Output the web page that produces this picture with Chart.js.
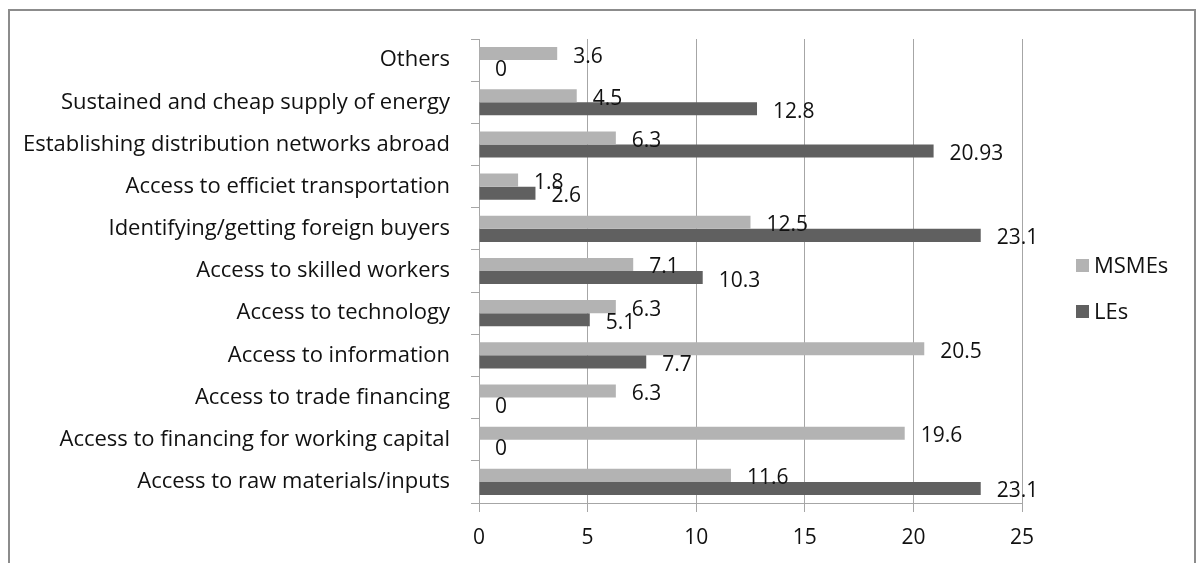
<!DOCTYPE html>
<html>
<head>
<meta charset="utf-8">
<script src="https://cdn.jsdelivr.net/npm/chart.js@4.4.0/dist/chart.umd.min.js"></script>
<style>
    html, body { margin: 0; padding: 0; background: #ffffff; overflow: hidden; }
    #frame {
        position: absolute; left: 8px; top: 9px; width: 1188px; height: 600px;
        border: 2px solid #8c8c8c; box-sizing: border-box;
    }
    #wrap { position: absolute; left: 0; top: 0; width: 1202px; height: 563px; }
</style>
</head>
<body>
<div id="frame"></div>
<div id="wrap"><canvas id="barChart" width="1202" height="563"></canvas></div>
<script>
const categories = [
    'Others',
    'Sustained and cheap supply of energy',
    'Establishing distribution networks abroad',
    'Access to efficiet transportation',
    'Identifying/getting foreign buyers',
    'Access to skilled workers',
    'Access to technology',
    'Access to information',
    'Access to trade financing',
    'Access to financing for working capital',
    'Access to raw materials/inputs'
];
const msmeValues = [3.6, 4.5, 6.3, 1.8, 12.5, 7.1, 6.3, 20.5, 6.3, 19.6, 11.6];
const leValues = [0, 12.8, 20.93, 2.6, 23.1, 10.3, 5.1, 7.7, 0, 0, 23.1];
const seriesNames = ['MSMEs', 'LEs'];
const xTicks = [0, 5, 10, 15, 20, 25];

const fontFamily = '"Open Sans", "Liberation Sans", sans-serif';
const fontSize = 21;
const labelSize = 22;
const textColor = '#111111';
const gridColor = '#a6a6a6';
const colors = ['#b3b3b3', '#606060'];

// value written just past the end of each bar
const valueLabels = {
    id: 'valueLabels',
    afterDatasetsDraw(chart) {
        const ctx = chart.ctx;
        ctx.save();
        ctx.font = fontSize + 'px ' + fontFamily;
        ctx.fillStyle = textColor;
        ctx.textAlign = 'left';
        ctx.textBaseline = 'middle';
        chart.data.datasets.forEach((ds, i) => {
            const meta = chart.getDatasetMeta(i);
            meta.data.forEach((bar, j) => {
                ctx.fillText(String(ds.data[j]), bar.x + 16, bar.y + 3);
            });
        });
        ctx.restore();
    }
};

// legend on the right, square swatch followed by the series name
const sideLegend = {
    id: 'sideLegend',
    afterDraw(chart) {
        const ctx = chart.ctx;
        ctx.save();
        ctx.font = labelSize + 'px ' + fontFamily;
        ctx.textBaseline = 'middle';
        chart.data.datasets.forEach((ds, i) => {
            const y = 266 + i * 46;
            ctx.fillStyle = ds.backgroundColor;
            ctx.fillRect(1076, y - 7, 13, 13);
            ctx.fillStyle = textColor;
            ctx.fillText(ds.label, 1094, y + 1);
        });
        ctx.restore();
    }
};

function createChart() {
    const ctx = document.getElementById('barChart').getContext('2d');
    return new Chart(ctx, {
        type: 'bar',
        data: {
            labels: categories,
            datasets: [{
                label: seriesNames[0],
                data: msmeValues,
                backgroundColor: colors[0],
                barPercentage: 1,
                categoryPercentage: 0.62
            }, {
                label: seriesNames[1],
                data: leValues,
                backgroundColor: colors[1],
                barPercentage: 1,
                categoryPercentage: 0.62
            }]
        },
        options: {
            indexAxis: 'y',
            responsive: false,
            animation: false,
            layout: { padding: { top: 39, right: 180, left: 0, bottom: 0 } },
            plugins: {
                legend: { display: false },
                tooltip: { enabled: false }
            },
            scales: {
                x: {
                    min: 0,
                    max: 25,
                    afterBuildTicks: scale => { scale.ticks = xTicks.map(v => ({ value: v })); },
                    afterFit: scale => { scale.height = 60; },
                    grid: { color: gridColor, tickLength: 9 },
                    border: { color: gridColor },
                    ticks: {
                        color: textColor,
                        padding: 13,
                        font: { family: fontFamily, size: fontSize }
                    }
                },
                y: {
                    afterFit: scale => { scale.width = 479; },
                    grid: { drawOnChartArea: false, color: gridColor, tickLength: 8 },
                    border: { color: gridColor },
                    ticks: {
                        color: textColor,
                        padding: 21,
                        autoSkip: false,
                        font: { family: fontFamily, size: labelSize }
                    }
                }
            }
        },
        plugins: [valueLabels, sideLegend]
    });
}

document.addEventListener('DOMContentLoaded', function() {
    createChart();
});
</script>
</body>
</html>
